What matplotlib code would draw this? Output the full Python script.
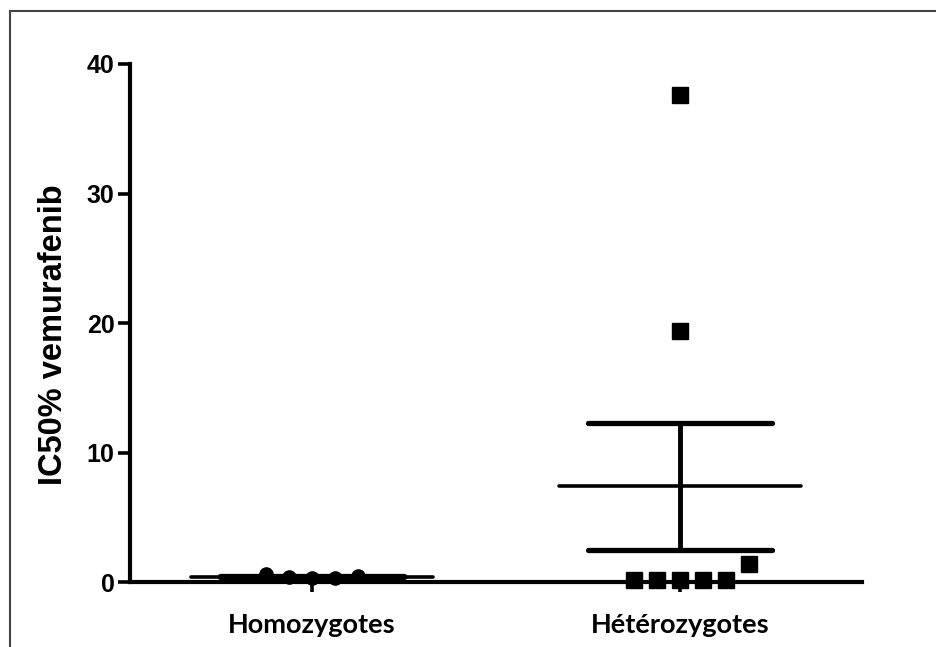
import numpy as np
import matplotlib
matplotlib.use("Agg")
import matplotlib.pyplot as plt
from matplotlib.lines import Line2D

# data
categories = ['Homozygotes', 'Hétérozygotes']
homo_values = [0.63, 0.45, 0.32, 0.37, 0.5]
hetero_values = [37.6, 19.4, 1.45, 0.2, 0.2, 0.2, 0.2, 0.2]
yticks = [0, 10, 20, 30, 40]

# horizontal spreading of the points (layout, in jitter steps)
homo_offsets = [-2, -1, 0, 1, 2]
hetero_offsets = [0, 0, 3, -2, -1, 0, 1, 2]
step = 0.0625

fig = plt.figure(figsize=(9.37, 6.47), dpi=100)
ax = fig.add_axes([0.1387, 0.0997, 0.7813, 0.8014])

groups = [(homo_values, homo_offsets, 'o', 9.5), (hetero_values, hetero_offsets, 's', 11.5)]
for i, (vals, offs, mk, ms) in enumerate(groups):
    x0 = i + 1
    vals = np.array(vals)
    mean = vals.mean()
    sem = vals.std(ddof=1) / np.sqrt(len(vals))
    ax.plot(x0 + np.array(offs) * step, vals, linestyle='none', marker=mk,
            ms=ms, color='black', clip_on=False, zorder=4)
    # mean line
    ax.plot([x0 - 0.33, x0 + 0.33], [mean, mean], color='black', lw=2.6,
            solid_capstyle='round', clip_on=False, zorder=3)
    # SEM bar
    ax.plot([x0, x0], [mean - sem, mean + sem], color='black', lw=3.5, clip_on=False, zorder=3)
    for y in (mean - sem, mean + sem):
        ax.plot([x0 - 0.25, x0 + 0.25], [y, y], color='black', lw=3.8,
                solid_capstyle='round', clip_on=False, zorder=3)

ax.set_xlim(0.505, 2.495)
ax.set_ylim(0, 40)
ax.set_yticks(yticks)
ax.set_xticks([1, 2])
ax.set_xticklabels(categories, fontfamily='Lato', fontweight='bold', fontsize=19.5)
for lab in ax.get_yticklabels():
    lab.set_fontfamily('Liberation Sans')
    lab.set_fontweight('bold')
    lab.set_fontsize(18)
ax.set_ylabel('IC50% vemurafenib', fontfamily='Liberation Sans', fontweight='bold',
              fontsize=23.5)
ax.yaxis.set_label_coords(-0.083, 0.478)

for s in ('top', 'right'):
    ax.spines[s].set_visible(False)
for s in ('left', 'bottom'):
    ax.spines[s].set_linewidth(3)
ax.tick_params(axis='y', direction='out', length=9, width=2.6, pad=2)
ax.tick_params(axis='x', direction='out', length=7, width=2.6, pad=15)

# frame line at left and top of the image
fig.add_artist(Line2D([10.5 / 937, 10.5 / 937], [0, 1 - 10.5 / 647], color='#444444', lw=1.5))
fig.add_artist(Line2D([10.5 / 937, 1], [1 - 10.5 / 647, 1 - 10.5 / 647], color='#444444', lw=1.5))

fig.savefig('out.png', dpi=100)
